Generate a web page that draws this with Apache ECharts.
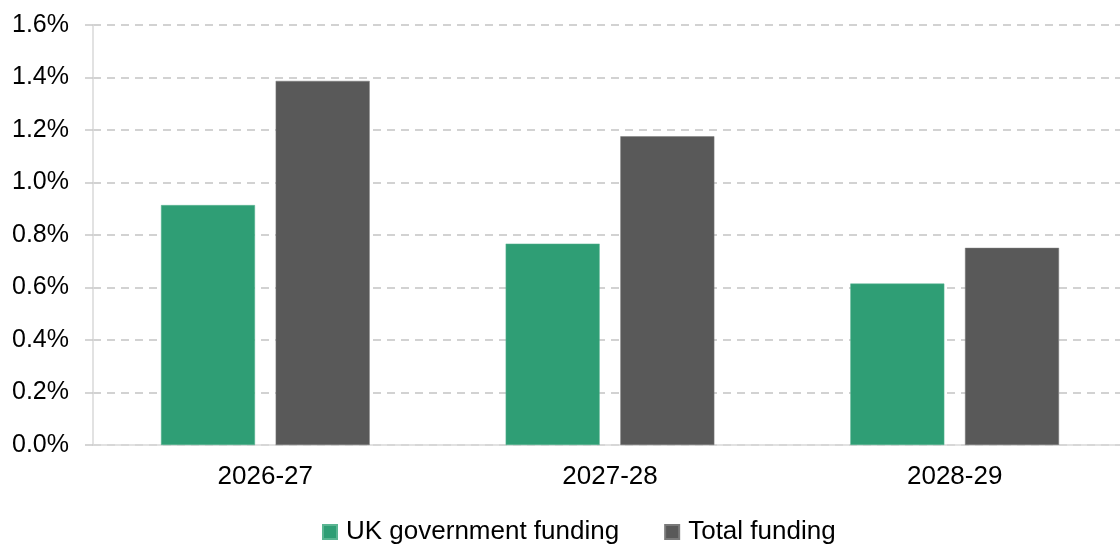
<!DOCTYPE html>
<html>
<head>
<meta charset="utf-8">
<script src="https://cdn.jsdelivr.net/npm/echarts@6/dist/echarts.min.js"></script>
<style>
html,body{margin:0;padding:0;background:#fff;overflow:hidden;width:1120px;height:545px;}
#chart{width:1127px;height:545px;}
</style>
</head>
<body>
<div id="chart"></div>
<script>
var categories = ['2026-27', '2027-28', '2028-29'];
var ukGovFunding = [0.914, 0.767, 0.615];
var totalFunding = [1.387, 1.176, 0.751];
var seriesNames = ['UK government funding', 'Total funding'];

var chart = echarts.init(document.getElementById('chart'), null, {renderer: 'canvas'});
var font = 'Liberation Sans, Arial, sans-serif';
chart.setOption({
  animation: false,
  backgroundColor: '#ffffff',
  textStyle: {fontFamily: font},
  grid: {left: 93, right: 0, top: 25, bottom: 100, containLabel: false},
  legend: {
    data: seriesNames,
    top: 519,
    left: 322,
    padding: 0,
    itemWidth: 14,
    itemHeight: 14,
    itemGap: 45,
    icon: 'rect',
    textStyle: {fontSize: 26, color: '#000', fontFamily: font, padding: [0, 0, 0, 4]}
  },
  xAxis: {
    type: 'category',
    data: categories,
    axisLine: {show: true, lineStyle: {color: '#d9d9d9', width: 1.5}},
    axisTick: {show: false},
    axisLabel: {fontSize: 26, color: '#000', margin: 19, fontFamily: font},
    splitLine: {show: false}
  },
  yAxis: {
    type: 'value',
    min: 0,
    max: 1.6,
    interval: 0.2,
    axisLine: {show: true, lineStyle: {color: '#d9d9d9', width: 1.5}},
    axisTick: {show: true, length: 8, lineStyle: {color: '#c8c8c8', width: 1.5}},
    axisLabel: {
      fontSize: 25, color: '#000', margin: 24, fontFamily: font,
      formatter: function (v) { return v.toFixed(1) + '%'; }
    },
    splitLine: {show: true, lineStyle: {color: '#c4c4c4', type: [8, 6], width: 1.5}}
  },
  series: [
    {
      name: seriesNames[0],
      type: 'bar',
      data: ukGovFunding,
      barWidth: 94,
      barGap: '22%',
      itemStyle: {color: '#2f9e75', borderColor: '#5ab592', borderWidth: 0.5}
    },
    {
      name: seriesNames[1],
      type: 'bar',
      data: totalFunding,
      barWidth: 94,
      itemStyle: {color: '#595959', borderColor: '#7a7a7a', borderWidth: 0.5}
    }
  ]
});
</script>
</body>
</html>
